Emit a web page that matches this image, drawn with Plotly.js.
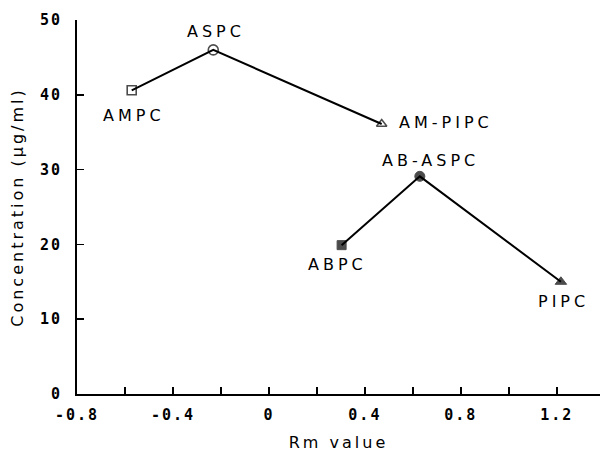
<!DOCTYPE html>
<html>
<head>
<meta charset="utf-8">
<script src="https://cdn.plot.ly/plotly-3.0.1.min.js"></script>
<style>
  body { margin: 0; background: #fff; }
  .xtick text, .ytick text { letter-spacing: 2px; }
  .xtitle, .ytitle { letter-spacing: 3px; }
  .annotation-text { letter-spacing: 4px; }
</style>
</head>
<body>
<div id="chart" style="width:600px;height:453px;"></div>
<script>
// Series 1 (open markers)
const openNames = ["AMPC", "ASPC", "AM-PIPC"];
const openRm = [-0.572, -0.232, 0.470];
const openConc = [40.6, 46.0, 36.1];

// Series 2 (filled markers)
const filledNames = ["ABPC", "AB-ASPC", "PIPC"];
const filledRm = [0.303, 0.629, 1.217];
const filledConc = [19.9, 29.1, 15.0];

// Axis ticks
const xTickVals = [-0.8, -0.4, 0, 0.4, 0.8, 1.2];
const xTickText = ["-0.8", "-0.4", "0", "0.4", "0.8", "1.2"];
const yTickVals = [0, 10, 20, 30, 40, 50];
const yTickText = ["0", "10", "20", "30", "40", "50"];

// Label placement (pixel offsets from each point)
const openLabelShift = [[2, -25, "center"], [3, 18, "center"], [15, 1.5, "left"]];
const filledLabelShift = [[-4, -19, "center"], [11, 15.5, "center"], [3, -20, "center"]];

const labelFont = { family: "DejaVu Sans", size: 16, color: "#000" };
const monoFont = { family: "DejaVu Sans Mono", size: 15, color: "#000", weight: "bold" };

const traces = [
  {
    x: openRm, y: openConc, mode: "lines+markers", type: "scatter",
    line: { color: "#000", width: 2 },
    marker: { symbol: ["square-open", "circle-open", "triangle-up-open"], size: [9, 10, 9], color: "#000", line: { width: 1.6, color: "#000" } },
    hoverinfo: "skip", showlegend: false
  },
  {
    x: filledRm, y: filledConc, mode: "lines+markers", type: "scatter",
    line: { color: "#000", width: 2 },
    marker: { symbol: ["square", "circle", "triangle-up"], size: [9, 10, 10], color: "#000", line: { width: 1, color: "#000" } },
    hoverinfo: "skip", showlegend: false
  }
];

const annotations = [];
function addLabels(names, xs, ys, shifts) {
  names.forEach((n, i) => {
    annotations.push({
      x: xs[i], y: ys[i], xref: "x", yref: "y", text: n, showarrow: false,
      xshift: shifts[i][0], yshift: shifts[i][1], xanchor: shifts[i][2], yanchor: "middle",
      font: labelFont
    });
  });
}
addLabels(openNames, openRm, openConc, openLabelShift);
addLabels(filledNames, filledRm, filledConc, filledLabelShift);

const layout = {
  width: 600, height: 453,
  margin: { l: 77, r: 0, t: 20, b: 59 },
  paper_bgcolor: "#fff", plot_bgcolor: "#fff",
  xaxis: {
    range: [-0.8, 1.38], tickvals: xTickVals, ticktext: xTickText,
    ticks: "inside", ticklen: 7, tickwidth: 1.6, tickcolor: "#000",
    minor: { dtick: 0.2, tick0: 0, ticks: "inside", ticklen: 7, tickwidth: 1.6, tickcolor: "#000" },
    showline: true, linecolor: "#000", linewidth: 2,
    showgrid: false, zeroline: false, tickfont: monoFont, ticklabelstandoff: 6,
    title: { text: "Rm value", font: labelFont, standoff: 14 }
  },
  yaxis: {
    range: [0, 50], tickvals: yTickVals, ticktext: yTickText,
    ticks: "inside", ticklen: 7, tickwidth: 1.6, tickcolor: "#000",
    showline: true, linecolor: "#000", linewidth: 2,
    showgrid: false, zeroline: false, tickfont: monoFont, ticklabelstandoff: 10,
    title: { text: "Concentration (μg/ml)", font: labelFont, standoff: 12 }
  },
  annotations: annotations
};

Plotly.newPlot("chart", traces, layout, { displayModeBar: false, staticPlot: true });
</script>
</body>
</html>
